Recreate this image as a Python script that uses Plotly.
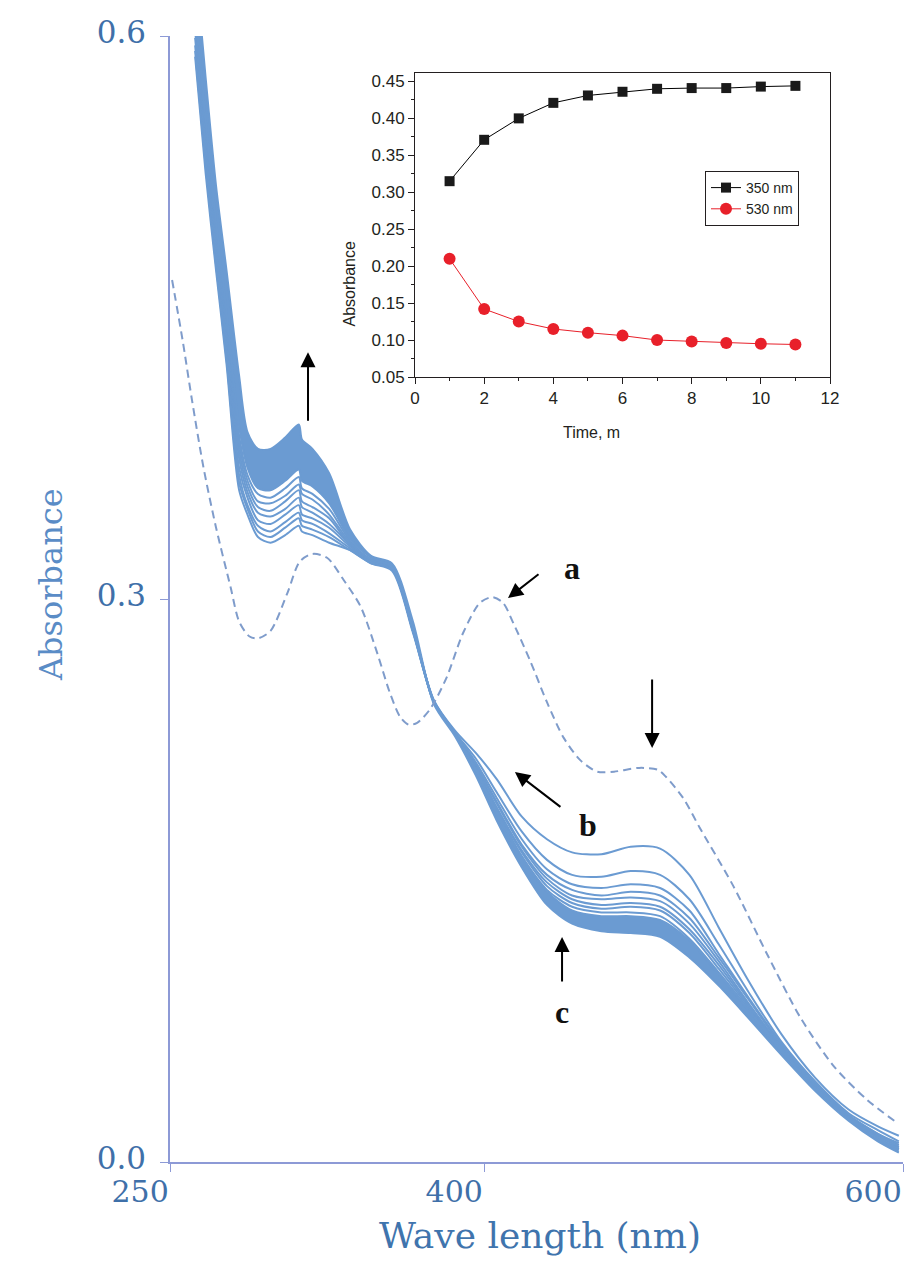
import plotly.graph_objects as go

# ---------------- main spectra data ----------------
wavelength = [262, 267, 272, 277, 283, 287, 292, 298, 305, 311.5, 313, 318, 326, 336, 346, 356,
              366, 376, 386, 396, 406, 418, 430, 442, 456, 470, 484, 498, 512, 526, 542, 558,
              574, 588, 598]

spec_b = [.589, .527, .475, .425, .358, .345, .333, .330, .334, .339, .336, .334, .330, .326, .319, .315,
          .282, .246, .230, .218, .204, .184, .172, .165, .164, .168, .167, .153, .125, .097, .068, .045,
          .028, .019, .014]
spec_2 = [.592, .531, .478, .428, .362, .348, .336, .333, .338, .343, .339, .337, .333, .326, .319, .316,
          .283, .246, .229, .215, .197, .176, .161, .153, .152, .155, .153, .140, .116, .091, .064, .043,
          .026, .017, .011]
spec_3 = [.595, .534, .481, .431, .366, .350, .339, .336, .341, .346, .342, .340, .335, .327, .320, .316,
          .283, .245, .229, .213, .194, .172, .156, .148, .146, .148, .146, .134, .111, .088, .063, .042,
          .025, .015, .010]
spec_4 = [.599, .538, .484, .435, .370, .354, .342, .340, .345, .350, .345, .343, .338, .328, .320, .316,
          .283, .245, .229, .212, .192, .169, .153, .145, .142, .144, .142, .130, .109, .087, .062, .041,
          .025, .015, .009]
spec_5 = [.603, .541, .487, .438, .375, .357, .346, .344, .348, .354, .349, .346, .340, .329, .320, .316,
          .284, .245, .229, .211, .191, .168, .151, .142, .140, .141, .139, .127, .107, .085, .061, .041,
          .024, .014, .008]
spec_6 = [.606, .545, .491, .442, .379, .360, .349, .347, .352, .358, .352, .349, .343, .329, .321, .317,
          .284, .245, .228, .210, .189, .166, .149, .140, .137, .138, .136, .124, .105, .084, .061, .040,
          .024, .014, .008]
spec_7 = [.610, .548, .494, .445, .383, .363, .352, .351, .355, .361, .356, .353, .345, .330, .321, .317,
          .285, .245, .228, .210, .188, .165, .147, .138, .135, .136, .134, .122, .103, .083, .060, .040,
          .024, .013, .007]
spec_8 = [.614, .552, .497, .449, .387, .366, .356, .354, .359, .365, .359, .356, .348, .331, .321, .317,
          .285, .245, .228, .209, .187, .163, .145, .136, .133, .133, .131, .119, .101, .082, .060, .039,
          .023, .013, .007]
spec_9 = [.618, .556, .501, .453, .392, .370, .359, .358, .363, .369, .363, .360, .351, .332, .322, .317,
          .285, .245, .228, .209, .186, .162, .144, .134, .131, .131, .129, .118, .100, .081, .059, .039,
          .023, .012, .007]
spec_c = [.640, .578, .520, .475, .419, .389, .380, .380, .386, .393, .385, .380, .367, .337, .323, .319,
          .288, .244, .227, .206, .182, .157, .137, .127, .123, .122, .120, .109, .094, .077, .057, .038,
          .022, .011, .005]

# dashed spectrum (a)
wavelength_a = [251, 256, 260.5, 266, 272, 279, 283, 288, 292, 298, 306, 312, 318, 325, 333, 341, 349,
                355, 360, 364, 368, 374, 382, 390, 398, 404, 409, 414, 422, 430, 438, 446, 454, 462,
                474, 483, 487, 495, 503, 519, 535, 551, 567, 583, 597]
spec_a = [.470, .438, .406, .370, .338, .306, .288, .280, .279, .283, .303, .320, .324, .322, .310, .296,
          .271, .250, .237, .233, .234, .241, .258, .282, .298, .301, .298, .287, .267, .245, .226, .214,
          .208, .208, .210, .209, .205, .194, .178, .147, .111, .077, .051, .033, .021]

x_ticks = [250, 400, 600]
x_ticktext = ["250", "400", "600"]
y_ticks = [0.0, 0.3, 0.6]
y_ticktext = ["0.0", "0.3", "0.6"]

# ---------------- inset data ----------------
time_min = [1, 2, 3, 4, 5, 6, 7, 8, 9, 10, 11]
abs_350 = [0.315, 0.371, 0.400, 0.421, 0.431, 0.436, 0.440, 0.441, 0.441, 0.443, 0.444]
abs_530 = [0.210, 0.142, 0.125, 0.115, 0.110, 0.106, 0.100, 0.098, 0.096, 0.095, 0.094]

W, H = 914, 1279
BLUE = "#6b9bd2"
AXC = "#8d9ad6"
TXT = "#3f70a9"
SERIF = "DejaVu Serif"
SANS = "Liberation Sans, Arial, sans-serif"
INK = "#231f20"

fig = go.Figure()

lines = [spec_b, spec_2, spec_3, spec_4, spec_5, spec_6, spec_7, spec_8]
for s in lines:
    fig.add_trace(go.Scatter(x=wavelength, y=s, mode="lines", showlegend=False, hoverinfo="skip",
                             line=dict(color=BLUE, width=2, shape="spline", smoothing=0.8),
                             xaxis="x", yaxis="y"))
fig.add_trace(go.Scatter(x=wavelength, y=spec_9, mode="lines", showlegend=False, hoverinfo="skip",
                         line=dict(color=BLUE, width=2, shape="spline", smoothing=0.8),
                         xaxis="x", yaxis="y"))
fig.add_trace(go.Scatter(x=wavelength, y=spec_c, mode="lines", showlegend=False, hoverinfo="skip",
                         line=dict(color=BLUE, width=2, shape="spline", smoothing=0.8),
                         fill="tonexty", fillcolor=BLUE, xaxis="x", yaxis="y"))
fig.add_trace(go.Scatter(x=wavelength_a, y=spec_a, mode="lines", showlegend=False, hoverinfo="skip",
                         line=dict(color="#7f9ccb", width=2, dash="8px,5px", shape="spline", smoothing=0.8),
                         xaxis="x", yaxis="y"))

# inset
fig.add_trace(go.Scatter(x=time_min, y=abs_350, mode="lines+markers", name="350 nm",
                         line=dict(color="black", width=1),
                         marker=dict(symbol="square", size=10, color="#1a1a1a"),
                         xaxis="x2", yaxis="y2"))
fig.add_trace(go.Scatter(x=time_min, y=abs_530, mode="lines+markers", name="530 nm",
                         line=dict(color="#e8202a", width=1),
                         marker=dict(symbol="circle", size=12, color="#e8202a"),
                         xaxis="x2", yaxis="y2"))

def px(xp):
    return xp / W

def py(yp):
    return 1 - yp / H

annotations = []
# arrows on main chart (tip in data coords, tail offset in pixels)
arrow_specs = [
    (315.9, 0.4315, 0, 70),
    (411.4, 0.3005, 32, -25),
    (480.2, 0.2206, 0, -70),
    (414.7, 0.2078, 47, 36),
    (437.2, 0.1199, 0, 46),
]
for ax_, ay_, dx, dy in arrow_specs:
    annotations.append(dict(x=ax_, y=ay_, xref="x", yref="y", ax=dx, ay=dy, text="",
                            showarrow=True, arrowhead=2, arrowsize=1.5, arrowwidth=2,
                            arrowcolor="black", standoff=0))
for lab, lx, ly in [("a", 442.0, 0.3165), ("b", 449.6, 0.1795), ("c", 437.2, 0.0799)]:
    annotations.append(dict(x=lx, y=ly, xref="x", yref="y", text="<b>%s</b>" % lab, showarrow=False,
                            font=dict(family="Liberation Serif", size=32, color="#111")))

# axis titles
annotations.append(dict(x=px(30), y=py(585), xref="paper", yref="paper", text="Absorbance",
                        textangle=-90, showarrow=False,
                        font=dict(family=SERIF, size=32, color="#5a8cc6")))
annotations.append(dict(x=px(540), y=py(1258), xref="paper", yref="paper", text="Wave length (nm)",
                        showarrow=False, font=dict(family=SERIF, size=36, color="#3f74ad")))
annotations.append(dict(x=px(349), y=py(240), xref="paper", yref="paper", text="Absorbance",
                        textangle=-90, showarrow=False, font=dict(family=SANS, size=16, color=INK)))
annotations.append(dict(x=px(622), y=py(422), xref="paper", yref="paper", text="Time, m",
                        showarrow=False, font=dict(family=SANS, size=16, color=INK)))

fig.update_layout(
    width=W, height=H,
    margin=dict(l=0, r=0, t=0, b=0),
    paper_bgcolor="white", plot_bgcolor="white",
    template="none",
    showlegend=True,
    legend=dict(x=px(705), y=py(171), xanchor="left", yanchor="top", traceorder="normal",
                bordercolor=INK, borderwidth=1, bgcolor="white",
                font=dict(family=SANS, size=14, color=INK), tracegroupgap=0, itemwidth=30),
    xaxis=dict(domain=[px(170), px(903)], range=[250, 600], anchor="y",
               showline=True, linecolor=AXC, linewidth=1.5, ticks="outside", ticklen=8,
               tickcolor=AXC, tickvals=x_ticks, ticktext=x_ticktext,
               ticklabelposition="outside left", ticklabelstandoff=2,
               tickfont=dict(family=SERIF, size=30, color=TXT),
               showgrid=False, zeroline=False, automargin=False),
    yaxis=dict(domain=[py(1162), py(36)], range=[0, 0.6], anchor="x",
               showline=True, linecolor=AXC, linewidth=1.5, ticks="outside", ticklen=8,
               tickcolor=AXC, tickvals=y_ticks, ticktext=y_ticktext,
               tickfont=dict(family=SERIF, size=31, color=TXT), ticklabelstandoff=8,
               ticklabelshift=-4,
               showgrid=False, zeroline=False, automargin=False),
    xaxis2=dict(domain=[px(415), px(830)], range=[0, 12], anchor="y2",
                showline=True, linecolor=INK, linewidth=1, mirror=True,
                ticks="outside", ticklen=6, tickcolor=INK, tick0=0, dtick=2,
                minor=dict(ticks="outside", ticklen=3, dtick=1, tickcolor=INK),
                tickfont=dict(family=SANS, size=17, color=INK),
                showgrid=False, zeroline=False, automargin=False),
    yaxis2=dict(domain=[py(377), py(73)], range=[0.05, 0.4614], anchor="x2",
                showline=True, linecolor=INK, linewidth=1, mirror=True,
                ticks="outside", ticklen=6, tickcolor=INK, tick0=0.05, dtick=0.05,
                tickformat=".2f",
                minor=dict(ticks="outside", ticklen=3, dtick=0.025, tickcolor=INK),
                tickfont=dict(family=SANS, size=17, color=INK),
                showgrid=False, zeroline=False, automargin=False),
    annotations=annotations,
)

fig.write_html("out.html")
